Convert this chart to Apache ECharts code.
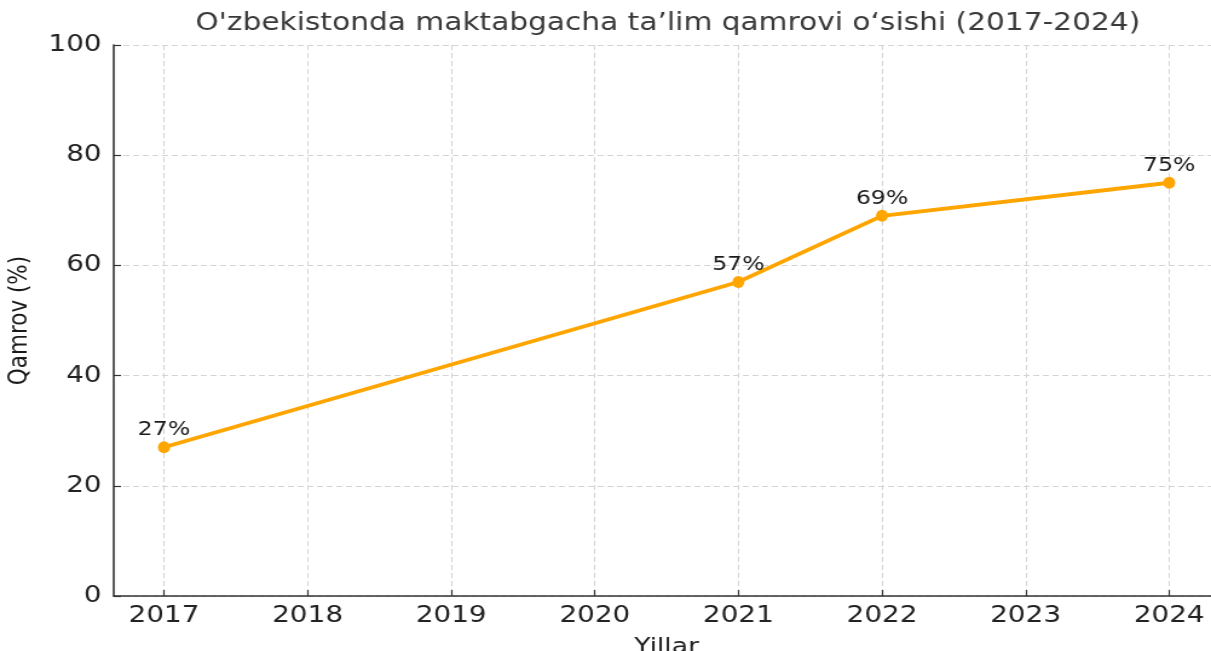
<!DOCTYPE html>
<html>
<head>
<meta charset="utf-8">
<script src="https://cdn.jsdelivr.net/npm/echarts@6/dist/echarts.min.js"></script>
<style>
  html, body { margin: 0; padding: 0; background: #fff; overflow: hidden; }
  #wrap { width: 1211px; height: 651px; overflow: hidden; position: relative; }
  #chart { position: absolute; left: 0; top: 0; width: 1001px; height: 651px; transform: scaleX(1.2098); transform-origin: 0 0; }
</style>
</head>
<body>
<div id="wrap"><div id="chart"></div></div>
<script>
const titleText = "O'zbekistonda maktabgacha ta\u2019lim qamrovi o\u2018sishi (2017-2024)";
const years = [2017, 2021, 2022, 2024];
const coverage = [27, 57, 69, 75];
const xTickYears = [2017, 2018, 2019, 2020, 2021, 2022, 2023, 2024];
const yTicks = [0, 20, 40, 60, 80, 100];
const xName = 'Yillar';
const yName = 'Qamrov (%)';

const font = 'DejaVu Sans';
const chart = echarts.init(document.getElementById('chart'), null, { renderer: 'canvas' });
chart.setOption({
  animation: false,
  backgroundColor: '#ffffff',
  title: {
    text: titleText,
    left: 547,
    textAlign: 'center',
    top: 6,
    textStyle: { fontFamily: font, fontSize: 24.5, fontWeight: 'normal', color: '#3a3a3a' }
  },
  grid: { left: 94, right: -7, top: 45, bottom: 55, containLabel: false, outerBoundsMode: 'none' },
  xAxis: {
    type: 'value',
    min: 2016.65,
    max: 2024.35,
    name: xName,
    nameLocation: 'middle',
    nameGap: 40,
    nameTextStyle: { fontFamily: font, fontSize: 22, color: '#222' },
    axisLine: { show: true, onZero: false, lineStyle: { color: '#333', width: 1.6 } },
    axisTick: { show: true, inside: true, length: 6, customValues: xTickYears, lineStyle: { color: '#333', width: 1.2 } },
    axisLabel: { customValues: xTickYears, margin: 9, fontFamily: font, fontSize: 23, color: '#222', formatter: v => String(v) },
    splitLine: { show: true, lineStyle: { color: '#d4d4d4', type: [5, 3], width: 1 } }
  },
  yAxis: {
    type: 'value',
    min: 0,
    max: 100,
    interval: 20,
    name: yName,
    nameLocation: 'middle',
    nameGap: 67,
    nameTextStyle: { fontFamily: font, fontSize: 21.5, color: '#1a1a1a' },
    axisLine: { show: true, lineStyle: { color: '#333', width: 1.6 } },
    axisTick: { show: true, inside: true, length: 6, lineStyle: { color: '#333', width: 1.2 } },
    axisLabel: { margin: 10, fontFamily: font, fontSize: 23, color: '#222',
      formatter: v => yTicks.includes(v) ? String(v) : '' },
    splitLine: { show: true, lineStyle: { color: '#d4d4d4', type: [5, 3], width: 1 } }
  },
  series: [{
    type: 'line',
    data: years.map((y, i) => [y, coverage[i]]),
    symbol: 'circle',
    symbolSize: [10, 12],
    lineStyle: { color: '#FFA500', width: 3.8 },
    itemStyle: { color: '#FFA500' },
    label: {
      show: true,
      position: 'top',
      distance: 1,
      formatter: p => p.value[1] + '%',
      fontFamily: font,
      fontSize: 19.5,
      color: '#1a1a1a'
    },
    z: 5
  }]
});
</script>
</body>
</html>
